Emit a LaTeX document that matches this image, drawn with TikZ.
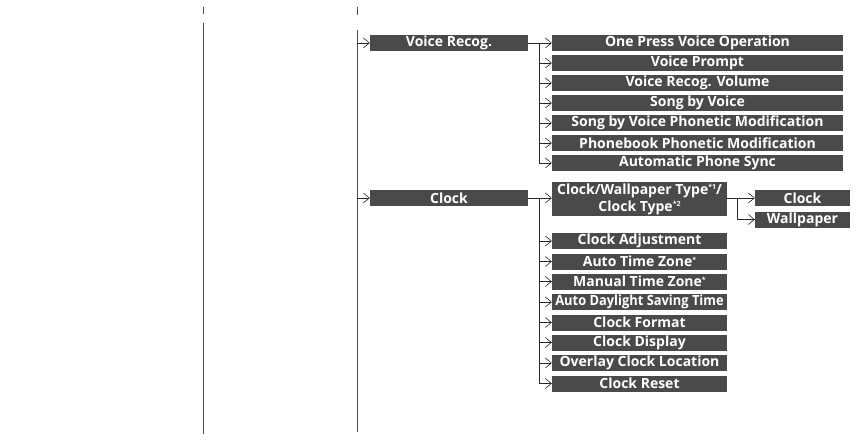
\documentclass[tikz,border=0pt]{standalone}
\usepackage{fontspec}
\setmainfont{Open Sans}
\usepackage{graphicx}
\usetikzlibrary{arrows.meta,positioning}

\definecolor{boxgray}{HTML}{4A4A4A}
\newcommand{\fnmark}[1]{\raisebox{4.5pt}{\fontsize{7}{7}\selectfont #1}}

\begin{document}
\begin{tikzpicture}[
    x=1pt, y=-1pt,
    menu/.style={rectangle, fill=boxgray, text=white, font=\fontsize{14}{16}\selectfont\bfseries, minimum height=16pt, inner sep=0pt},
    main/.style={menu, minimum width=158pt},
    voicesub/.style={menu, minimum width=291pt},
    clocksub/.style={menu, minimum width=175pt},
    typesub/.style={menu, minimum width=95pt},
    link/.style={draw=black!85, line width=0.6pt},
    arr/.style={link, -{Straight Barb[length=6pt,width=10pt]}}
]
    \useasboundingbox (0,0) rectangle (858,441);

    % Spalten
    \draw[black!70, line width=0.8pt] (203,7) -- (203,14);
    \draw[black!70, line width=0.8pt] (203,23) -- (203,434);
    \draw[black!70, line width=0.8pt] (357,7) -- (357,15);
    \draw[black!70, line width=0.8pt] (357,30) -- (357,432);
    \coordinate (bus) at (357,0);

    % Ebene 2
    \node[main] (voice) at (449,43) {Voice Recog.};
    \node[main] (clock) at (449,198) {Clock};

    \draw[arr] (bus |- voice.west) -- (voice.west);
    \draw[arr] (bus |- clock.west) -- (clock.west);

    % Voice Recog.
    \node[voicesub] (v1) at (697.5,43) {One Press Voice Operation};
    \node[voicesub] (v2) at (697.5,63) {Voice Prompt};
    \node[voicesub] (v3) at (697.5,83) {Voice Recog. Volume};
    \node[voicesub] (v4) at (697.5,103) {Song by Voice};
    \node[voicesub] (v5) at (697.5,123) {Song by Voice Phonetic Modification};
    \node[voicesub] (v6) at (697.5,143) {Phonebook Phonetic Modification};
    \node[voicesub] (v7) at (697.5,163) {Automatic Phone Sync};

    \coordinate (vfork) at (539,43);
    \draw[link] (voice.east) -- (vfork);
    \draw[link] (vfork) -- (vfork |- v7.west);
    \draw[arr] (vfork |- v1.west) -- (v1.west);
    \draw[arr] (vfork |- v2.west) -- (v2.west);
    \draw[arr] (vfork |- v3.west) -- (v3.west);
    \draw[arr] (vfork |- v4.west) -- (v4.west);
    \draw[arr] (vfork |- v5.west) -- (v5.west);
    \draw[arr] (vfork |- v6.west) -- (v6.west);
    \draw[arr] (vfork |- v7.west) -- (v7.west);

    % Clock
    \node[clocksub, minimum height=34pt, align=center, font=\fontsize{14}{17}\selectfont\bfseries] (c1) at (639.5,199)
        {Clock/Wallpaper Type\fnmark{*1}/\\Clock Type\fnmark{*2}};
    \node[clocksub] (c2) at (639.5,241) {Clock Adjustment};
    \node[clocksub] (c3) at (639.5,261.5) {Auto Time Zone\fnmark{*}};
    \node[clocksub] (c4) at (639.5,281.5) {Manual Time Zone\fnmark{*}};
    \node[clocksub] (c5) at (639.5,302) {\scalebox{0.92}[1]{Auto Daylight Saving Time}};
    \node[clocksub] (c6) at (639.5,322.5) {Clock Format};
    \node[clocksub] (c7) at (639.5,342.5) {Clock Display};
    \node[clocksub] (c8) at (639.5,363) {Overlay Clock Location};
    \node[clocksub] (c9) at (639.5,383.5) {Clock Reset};

    \coordinate (cfork) at (539,198);
    \draw[link] (clock.east) -- (cfork);
    \draw[link] (cfork) -- (cfork |- c9.west);
    \draw[arr] (cfork) -- (c1.west |- cfork);
    \draw[arr] (cfork |- c2.west) -- (c2.west);
    \draw[arr] (cfork |- c3.west) -- (c3.west);
    \draw[arr] (cfork |- c4.west) -- (c4.west);
    \draw[arr] (cfork |- c5.west) -- (c5.west);
    \draw[arr] (cfork |- c6.west) -- (c6.west);
    \draw[arr] (cfork |- c7.west) -- (c7.west);
    \draw[arr] (cfork |- c8.west) -- (c8.west);
    \draw[arr] (cfork |- c9.west) -- (c9.west);

    % Clock/Wallpaper Type
    \node[typesub] (t1) at (802.5,198) {Clock};
    \node[typesub] (t2) at (802.5,219.5) {Wallpaper};

    \coordinate (tfork) at (737,198);
    \draw[arr] (c1.east |- t1.west) -- (t1.west);
    \draw[link] (tfork) -- (tfork |- t2.west);
    \draw[arr] (tfork |- t2.west) -- (t2.west);

\end{tikzpicture}
\end{document}
